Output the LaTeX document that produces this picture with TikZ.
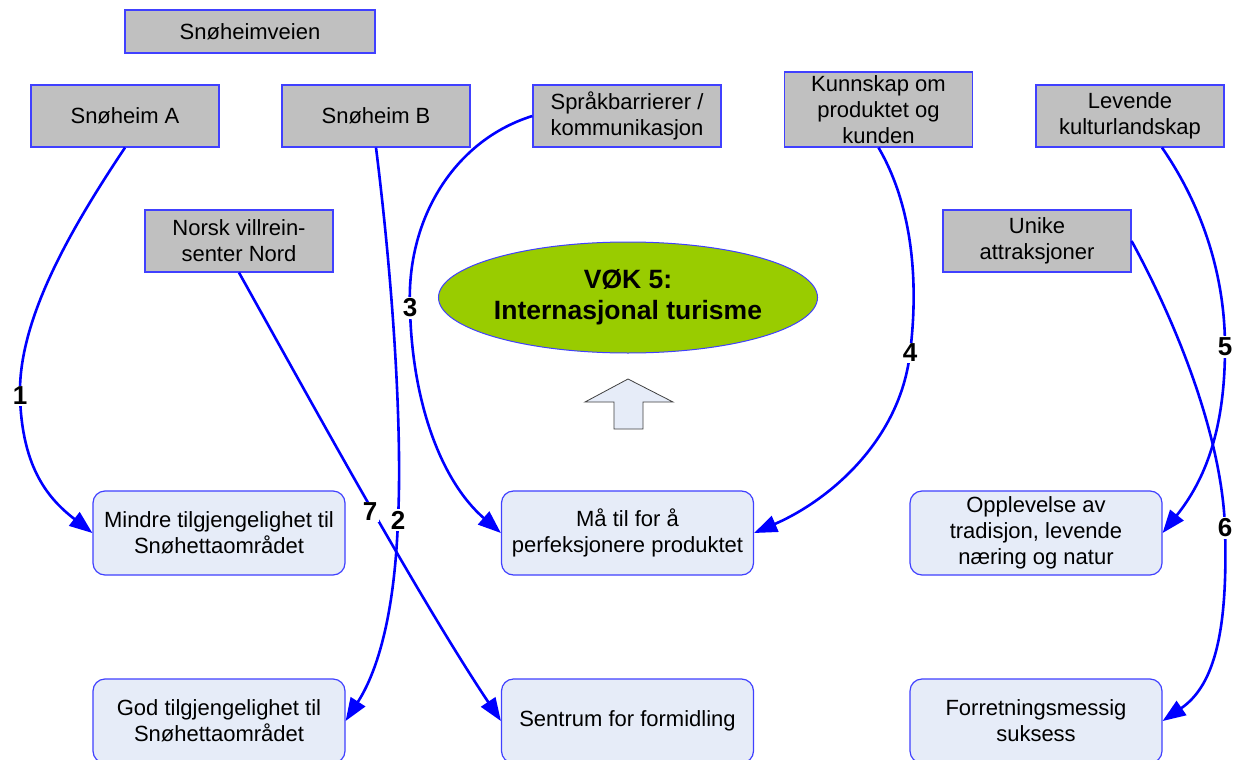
\documentclass[tikz,border=0pt]{standalone}
\usepackage{fontspec}
\setmainfont{Liberation Sans}
\usetikzlibrary{arrows.meta,shapes.geometric}
\definecolor{boxgray}{RGB}{192,192,192}
\definecolor{boxline}{RGB}{64,64,255}
\definecolor{lightbox}{RGB}{230,236,248}
\definecolor{ellgreen}{RGB}{153,204,0}
\definecolor{conn}{RGB}{0,0,255}
\newcommand\fnorm{\fontsize{22}{26}\selectfont}
\begin{document}
\begin{tikzpicture}[x=1pt,y=-1pt,
  graybox/.style={draw=boxline,line width=1.2pt,fill=boxgray,inner sep=0pt,
    minimum width=188pt,minimum height=62pt,align=center,font=\fnorm},
  softbox/.style={draw=boxline,line width=1.2pt,fill=lightbox,inner sep=0pt,
    rounded corners=12pt,minimum width=252pt,minimum height=84pt,align=center,font=\fnorm},
  link/.style={draw=conn,line width=2.6pt,-{Triangle[length=23pt,width=17pt]}},
  numlabel/.style={fill=white,inner sep=1.5pt,font=\fontsize{26}{30}\selectfont\bfseries}
]
\useasboundingbox (0,0) rectangle (1234,760);
\fill[white] (0,0) rectangle (1234,760);

% top boxes
\node[graybox,minimum width=250pt,minimum height=43pt] (vei) at (250,31.5) {Snøheimveien};
\node[graybox] (snA) at (125,116) {Snøheim A};
\node[graybox] (snB) at (376,116) {Snøheim B};
\node[graybox] (sprak) at (627,116) {Språkbarrierer /\\kommunikasjon};
\node[graybox,minimum height=75pt] (kunn) at (878.5,109.5) {Kunnskap om\\produktet og\\kunden};
\node[graybox] (lev) at (1130,116) {Levende\\kulturlandskap};
\node[graybox] (norsk) at (239,241) {Norsk villrein-\\senter Nord};
\node[graybox] (unike) at (1037,241) {Unike\\attraksjoner};

% central ellipse
\node[ellipse,draw=boxline,line width=1pt,fill=ellgreen,minimum width=378pt,minimum height=111pt,
  inner sep=0pt,align=center,font=\fontsize{26.5}{31}\selectfont\bfseries] (vok) at (628,297.5)
  {VØK 5:\\Internasjonal turisme};

% block arrow
\draw[draw=black!75,line width=0.8pt,fill=lightbox]
  (628,379) -- (673,402) -- (643,402) -- (643,429) -- (614,429) -- (614,402) -- (585,402) -- cycle;

% bottom boxes
\node[softbox] (mindre) at (219,533) {Mindre tilgjengelighet til\\Snøhettaområdet};
\node[softbox] (maa) at (627.5,533) {Må til for å\\perfeksjonere produktet};
\node[softbox] (opp) at (1036,533) {Opplevelse av\\tradisjon, levende\\næring og natur};
\node[softbox] (god) at (219,721) {God tilgjengelighet til\\Snøhettaområdet};
\node[softbox] (sent) at (627.5,721) {Sentrum for formidling};
\node[softbox] (forr) at (1036,721) {Forretningsmessig\\suksess};

% label points
\coordinate (p1) at (20,396);
\coordinate (p2) at (398,520);
\coordinate (p3) at (410,308);
\coordinate (p4) at (910,353);
\coordinate (p5) at (1225,347);
\coordinate (p6) at (1225,528);
\coordinate (p7) at (370,512);

% connectors
\draw[link] (snA.south) .. controls (70,230) and (18,320) .. (p1)
  .. controls (22,470) and (50,500) .. (mindre.west);
\draw[link] (snB.south) .. controls (395,300) and (402,440) .. (p2)
  .. controls (394,630) and (372,680) .. (god.east);
\draw[link] (sprak.west) .. controls (455,140) and (406,218) .. (p3)
  .. controls (412,400) and (440,480) .. (maa.west);
\draw[link] (kunn.south) .. controls (915,210) and (918,290) .. (p4)
  .. controls (900,440) and (830,500) .. (maa.east);
\draw[link] ([xshift=32pt]lev.south) .. controls (1205,210) and (1225,280) .. (p5)
  .. controls (1225,430) and (1205,480) .. (opp.east);
\draw[link] (unike.east) .. controls (1180,330) and (1222,440) .. (p6)
  .. controls (1228,630) and (1215,685) .. (forr.east);
\draw[link] (norsk.south) .. controls (310,400) and (420,600) .. (sent.west);

% number labels
\node[numlabel] (n1) at (p1) {1};
\node[numlabel] (n2) at (p2) {2};
\node[numlabel] (n3) at (p3) {3};
\node[numlabel] (n4) at (p4) {4};
\node[numlabel] (n5) at (p5) {5};
\node[numlabel] (n6) at (p6) {6};
\node[numlabel] (n7) at (p7) {7};
\end{tikzpicture}
\end{document}
